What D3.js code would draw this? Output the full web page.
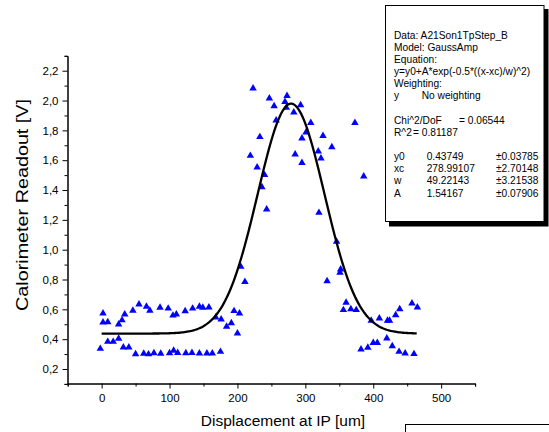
<!DOCTYPE html>
<html>
<head>
<meta charset="utf-8">
<script src="https://cdn.jsdelivr.net/npm/d3@7/dist/d3.min.js"></script>
<style>
  body { margin: 0; background: #fff; }
  svg { display: block; font-family: "Liberation Sans", Arial, sans-serif; }
</style>
</head>
<body>
<div id="chart"></div>
<script>
var displacement = [
  -2, 2, 2, 9, 9, 17, 25, 25, 30, 32, 34, 40, 46, 50, 55, 62, 66, 69, 71, 77,
  86, 87, 98, 100, 105, 106, 110, 112, 123, 124, 133, 134, 144, 144, 149, 155, 158, 163, 168, 175,
  176, 184, 191, 195, 200, 203, 205, 211,
  219, 223, 229, 233, 236, 240, 243, 247, 254, 257, 270, 272, 273, 283, 285, 293, 295, 295, 301, 308,
  319, 320, 323, 326, 332, 339, 346, 351, 352, 356, 360, 367, 373, 375, 382, 386, 392, 397, 400, 406,
  409, 420, 421, 424, 428, 433, 438, 439, 447, 457, 460, 465
];
var readout = [
  0.336, 0.573, 0.513, 0.515, 0.383, 0.383, 0.404, 0.500, 0.527, 0.345, 0.567, 0.345, 0.592, 0.300, 0.634, 0.304, 0.618, 0.299, 0.592, 0.307,
  0.612, 0.304, 0.606, 0.307, 0.559, 0.324, 0.567, 0.309, 0.588, 0.307, 0.309, 0.606, 0.305, 0.618, 0.612, 0.305, 0.614, 0.305, 0.547, 0.316,
  0.533, 0.484, 0.508, 0.589, 0.439, 0.573, 0.886, 0.785,
  1.630, 2.082, 1.552, 1.756, 1.420, 1.501, 1.271, 2.015, 1.963, 1.867, 1.992, 1.952, 2.032, 1.921, 1.639, 1.970, 1.747, 1.583, 1.787, 1.851,
  1.660, 1.248, 1.613, 1.764, 0.790, 1.688, 1.054, 0.846, 0.868, 0.596, 0.645, 0.602, 1.851, 0.596, 0.332, 1.492, 0.343, 0.524, 0.376, 0.376,
  0.540, 0.406, 0.524, 0.524, 0.354, 0.562, 0.316, 0.602, 0.305, 0.640, 0.301, 0.614
];

// GaussAmp fit result (from the fit box)
var fitNames = ["y0", "xc", "w", "A"];
var fitValues = ["0.43749", "278.99107", "49.22143", "1.54167"];
var fitErrors = ["\u00b10.03785", "\u00b12.70148", "\u00b13.21538", "\u00b10.07906"];
var fitRange = [0, 465];
var fitHeader = ["Data: A21Son1TpStep_B", "Model: GaussAmp", "Equation:", "y=y0+A*exp(-0.5*((x-xc)/w)^2)", "Weighting:"];

var xTicks = [0, 100, 200, 300, 400, 500];
var xMinor = [-50, 50, 150, 250, 350, 450, 550];
var yTicks = [0.2, 0.4, 0.6, 0.8, 1.0, 1.2, 1.4, 1.6, 1.8, 2.0, 2.2];
var yMinor = [0.1, 0.3, 0.5, 0.7, 0.9, 1.1, 1.3, 1.5, 1.7, 1.9, 2.1, 2.3];

(function() {
  var width = 549, height = 432;
  var svg, x, y, fmt, curve, i, xs, y0, xc, w, A, g, lh, top;

  svg = d3.select("#chart").append("svg").attr("width", width).attr("height", height);

  x = d3.scaleLinear().domain([-50, 550]).range([67.7, 475.1]);
  y = d3.scaleLinear().domain([0.1, 2.3]).range([383.9, 55.8]);

  fmt = d3.formatLocale({ decimal: ",", thousands: ".", grouping: [3], currency: ["", ""] }).format(".1f");

  // axes: majors with labels, minors without
  svg.append("g").attr("transform", "translate(0,383.5)")
    .call(d3.axisBottom(x).tickValues(xMinor).tickSize(3).tickFormat(""));
  svg.append("g").attr("class", "x-axis").attr("transform", "translate(0,383.5)")
    .call(d3.axisBottom(x).tickValues(xTicks).tickSize(5).tickPadding(5).tickSizeOuter(0));
  svg.append("g").attr("transform", "translate(67.5,0)")
    .call(d3.axisLeft(y).tickValues(yMinor).tickSize(3).tickFormat(""));
  svg.append("g").attr("class", "y-axis").attr("transform", "translate(67.5,0)")
    .call(d3.axisLeft(y).tickValues(yTicks).tickSize(5).tickPadding(4).tickSizeOuter(0).tickFormat(fmt));

  svg.selectAll(".domain").attr("stroke", "#000").attr("stroke-width", 1);
  svg.selectAll(".tick line").attr("stroke", "#000");
  svg.selectAll(".tick text").attr("fill", "#000").style("font-size", "11.5px")
    .style("font-family", "'Liberation Sans', Arial, sans-serif");

  svg.append("text").attr("x", 283).attr("y", 426).attr("text-anchor", "middle")
    .style("font-size", "15.5px").text("Displacement at IP [um]");
  svg.append("text").attr("transform", "translate(27.5,205) rotate(-90)").attr("text-anchor", "middle")
    .attr("textLength", 212).attr("lengthAdjust", "spacingAndGlyphs")
    .style("font-size", "16px").text("Calorimeter Readout [V]");

  // data points
  svg.append("g").selectAll("path").data(displacement).enter().append("path")
    .attr("d", d3.symbol().type(d3.symbolTriangle).size(24))
    .attr("transform", function(d, k) { return "translate(" + x(d) + "," + y(readout[k]) + ")"; })
    .attr("fill", "#0000ff");

  // fitted curve
  y0 = +fitValues[0]; xc = +fitValues[1]; w = +fitValues[2]; A = +fitValues[3];
  xs = d3.range(fitRange[0], fitRange[1] + 0.1, 2);
  curve = d3.line()
    .x(function(d) { return x(d); })
    .y(function(d) { return y(y0 + A * Math.exp(-0.5 * Math.pow((d - xc) / w, 2))); });
  svg.append("path").datum(xs).attr("d", curve)
    .attr("fill", "none").attr("stroke", "#000").attr("stroke-width", 2.3);

  // fit result box with shadow
  svg.append("rect").attr("x", 389).attr("y", 9).attr("width", 159.5).attr("height", 217.5).attr("fill", "#000");
  svg.append("rect").attr("x", 385.5).attr("y", 5.5).attr("width", 158.5).attr("height", 216)
    .attr("fill", "#fff").attr("stroke", "#000").attr("stroke-width", 1);

  g = svg.append("g").style("font-size", "10.2px").attr("fill", "#000");
  lh = 12.15; top = 38.6;
  for (i = 0; i < fitHeader.length; i++) {
    g.append("text").attr("x", 394).attr("y", top + i * lh).text(fitHeader[i]);
  }
  g.append("text").attr("x", 394).attr("y", top + 5 * lh).text("y");
  g.append("text").attr("x", 421.7).attr("y", top + 5 * lh).text("No weighting");
  g.append("text").attr("x", 394).attr("y", top + 7 * lh).text("Chi^2/DoF");
  g.append("text").attr("x", 459).attr("y", top + 7 * lh).text("= 0.06544");
  g.append("text").attr("x", 394).attr("y", top + 8 * lh).text("R^2");
  g.append("text").attr("x", 413).attr("y", top + 8 * lh).text("= 0.81187");
  for (i = 0; i < fitNames.length; i++) {
    g.append("text").attr("x", 394).attr("y", top + (10 + i) * lh).text(fitNames[i]);
    g.append("text").attr("x", 426.7).attr("y", top + (10 + i) * lh).text(fitValues[i]);
    g.append("text").attr("x", 496).attr("y", top + (10 + i) * lh).text(fitErrors[i]);
  }

  // edge of a second text box, cut off by the page
  svg.append("rect").attr("x", 405.5).attr("y", 424.5).attr("width", 200).attr("height", 40)
    .attr("fill", "#fff").attr("stroke", "#000").attr("stroke-width", 1);
}).call(this);
</script>
</body>
</html>
